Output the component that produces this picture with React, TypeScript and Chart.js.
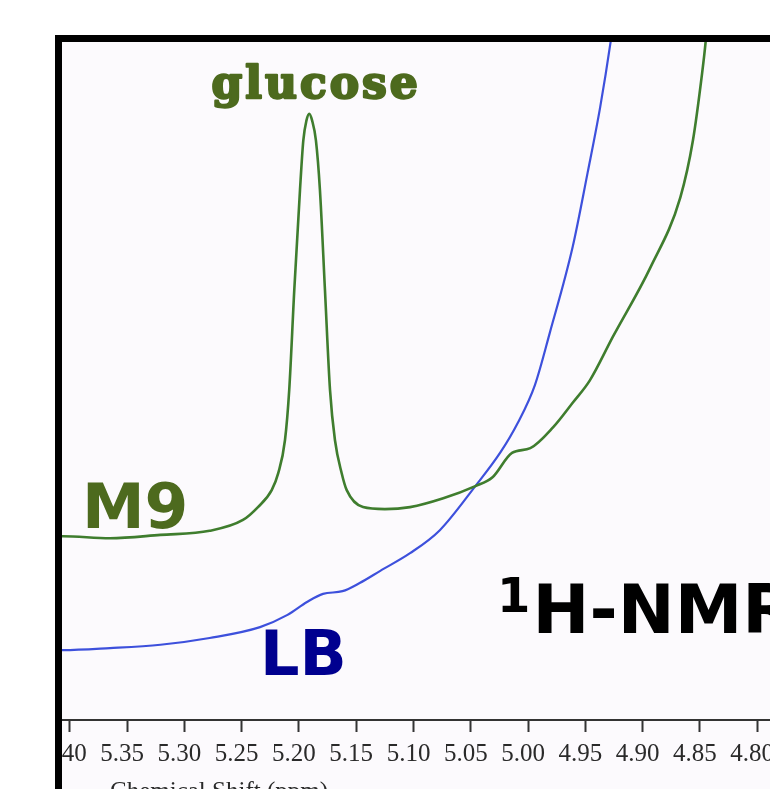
import React, { useEffect, useRef } from "react";
import { Chart, registerables } from "chart.js";

Chart.register(...registerables);

// Tick labels on the chemical shift axis (ppm)
const ppmTicks = [5.4, 5.35, 5.3, 5.25, 5.2, 5.15, 5.1, 5.05, 5.0, 4.95, 4.9, 4.85, 4.8];

// M9 spectrum (green)
const m9Ppm = [
  5.42, 5.406, 5.365, 5.321, 5.278, 5.2489, 5.2358, 5.2238, 5.2181, 5.2122, 5.2085, 5.2041, 5.1991,
  5.1962, 5.1935, 5.191, 5.1885, 5.1852, 5.1817, 5.1773, 5.1729, 5.1686, 5.1627, 5.1583, 5.1441,
  5.125, 5.103, 5.074, 5.046, 5.031, 5.014, 4.998, 4.978, 4.961, 4.946, 4.926, 4.893, 4.867, 4.856,
  4.848, 4.845, 4.84,
];
const m9Intensity = [
  27.1, 27.1, 26.8, 27.3, 27.9, 29.5, 31.4, 33.9, 36.4, 41.3, 48.7, 63.4, 78.2,
  85.5, 88.4, 89.4, 88.4, 85.5, 78.2, 63.4, 48.7, 41.3, 36.4, 33.9, 31.4,
  31.1, 31.4, 32.7, 34.5, 35.8, 39.4, 40.1, 43.2, 46.8, 50.1, 56.5, 66.8, 77.1, 85.5,
  95.4, 99.9, 110,
];

// LB spectrum (blue)
const lbPpm = [
  5.42, 5.406, 5.365, 5.321, 5.278, 5.234, 5.21, 5.193, 5.179, 5.162, 5.147, 5.129, 5.103, 5.077,
  5.046, 5.024, 5.009, 4.994, 4.981, 4.961, 4.948, 4.937, 4.928, 4.92,
];
const lbIntensity = [
  10.3, 10.3, 10.6, 11.1, 12.1, 13.7, 15.5, 17.4, 18.6, 19.0, 20.2, 22.0, 24.6, 28.0,
  34.5, 39.5, 43.8, 49.4, 57.1, 69.8, 80.7, 90.4, 99.9, 110,
];

// Text annotations, anchored in data coordinates
const annotationTexts = ["glucose", "M9", "LB", "1", "H-NMR"];
const annotationPpm = [5.185, 5.3895, 5.234, 5.027, 4.996];
const annotationIntensity = [91.8, 28.3, 6.6, 15.9, 12.8];
const annotationAlign: CanvasTextAlign[] = ["center", "left", "left", "left", "left"];
const annotationColor = ["#4d6a1e", "#4d6a1e", "#00008f", "#000000", "#000000"];
const annotationFont = [
  'bold 44px "DejaVu Serif"',
  'bold 63px "DejaVu Sans"',
  'bold 62px "DejaVu Sans"',
  'bold 48px "DejaVu Sans"',
  'bold 68px "DejaVu Sans"',
];
const annotationStroke = [2.4, 0, 0, 0, 0];
const annotationSpacing = ["3px", "0px", "0px", "0px", "0px"];

const axisTitle = "Chemical Shift (ppm)";
const axisTitlePpm = 5.365;

const labelPlugin = {
  id: "nmrLabels",
  afterDraw(chart: any) {
    const { ctx, scales, chartArea } = chart;
    const xs = scales.x;
    const ys = scales.y;
    ctx.save();
    ctx.textBaseline = "alphabetic";
    annotationTexts.forEach((t, i) => {
      ctx.font = annotationFont[i];
      ctx.fillStyle = annotationColor[i];
      ctx.strokeStyle = annotationColor[i];
      ctx.textAlign = annotationAlign[i];
      (ctx as any).letterSpacing = annotationSpacing[i];
      const px = xs.getPixelForValue(annotationPpm[i]);
      const py = ys.getPixelForValue(annotationIntensity[i]);
      ctx.fillText(t, px, py);
      if (annotationStroke[i] > 0) {
        ctx.lineWidth = annotationStroke[i];
        ctx.lineJoin = "round";
        ctx.strokeText(t, px, py);
      }
    });
    (ctx as any).letterSpacing = "0px";
    ctx.font = '25px "Liberation Serif"';
    ctx.fillStyle = "#2a2a2a";
    ctx.textAlign = "left";
    ctx.fillText(axisTitle, xs.getPixelForValue(axisTitlePpm), chartArea.bottom + 79);
    ctx.restore();
  },
};

export default function App() {
  const ref = useRef<HTMLCanvasElement>(null);
  useEffect(() => {
    const chart = new Chart(ref.current as HTMLCanvasElement, {
      type: "line",
      data: {
        datasets: [
          {
            label: "M9",
            data: m9Ppm.map((x, i) => ({ x, y: m9Intensity[i] })),
            borderColor: "#3f7d2e",
            borderWidth: 2.6,
            pointRadius: 0,
            cubicInterpolationMode: "monotone",
            fill: false,
          },
          {
            label: "LB",
            data: lbPpm.map((x, i) => ({ x, y: lbIntensity[i] })),
            borderColor: "#3d50dc",
            borderWidth: 2.2,
            pointRadius: 0,
            cubicInterpolationMode: "monotone",
            fill: false,
          },
        ],
      },
      options: {
        animation: false,
        responsive: false,
        maintainAspectRatio: false,
        layout: { padding: { left: 25, right: 42, top: 0, bottom: 61 } },
        plugins: { legend: { display: false }, tooltip: { enabled: false } },
        scales: {
          x: {
            type: "linear",
            reverse: true,
            min: 4.78,
            max: 5.42,
            afterBuildTicks: (s: any) => {
              s.ticks = ppmTicks.map((v) => ({ value: v }));
            },
            afterFit: (s: any) => {
              s.height = 61;
            },
            grid: {
              drawOnChartArea: false,
              drawTicks: true,
              tickLength: 12,
              tickWidth: 2,
              tickColor: "#333",
            },
            border: { display: true, color: "#333", width: 2 },
            ticks: {
              font: { family: '"Liberation Serif"', size: 25 },
              color: "#2a2a2a",
              padding: 7,
              labelOffset: -5,
              maxRotation: 0,
              autoSkip: false,
              callback: (v: any) => Number(v).toFixed(2),
            },
          },
          y: { display: false, min: 0, max: 100 },
        },
      },
      plugins: [labelPlugin],
    });
    return () => chart.destroy();
  }, []);

  return (
    <div
      style={{
        position: "fixed",
        left: 0,
        top: 0,
        width: 770,
        height: 789,
        overflow: "hidden",
        background: "#ffffff",
      }}
    >
      <div
        style={{
          position: "absolute",
          left: 55,
          top: 35,
          width: 800,
          height: 800,
          borderLeft: "7px solid #000",
          borderTop: "7px solid #000",
          background: "#fcfafd",
          overflow: "hidden",
        }}
      >
        <canvas
          ref={ref}
          width={800}
          height={800}
          style={{ position: "absolute", left: -40, top: 0 }}
        />
      </div>
    </div>
  );
}
